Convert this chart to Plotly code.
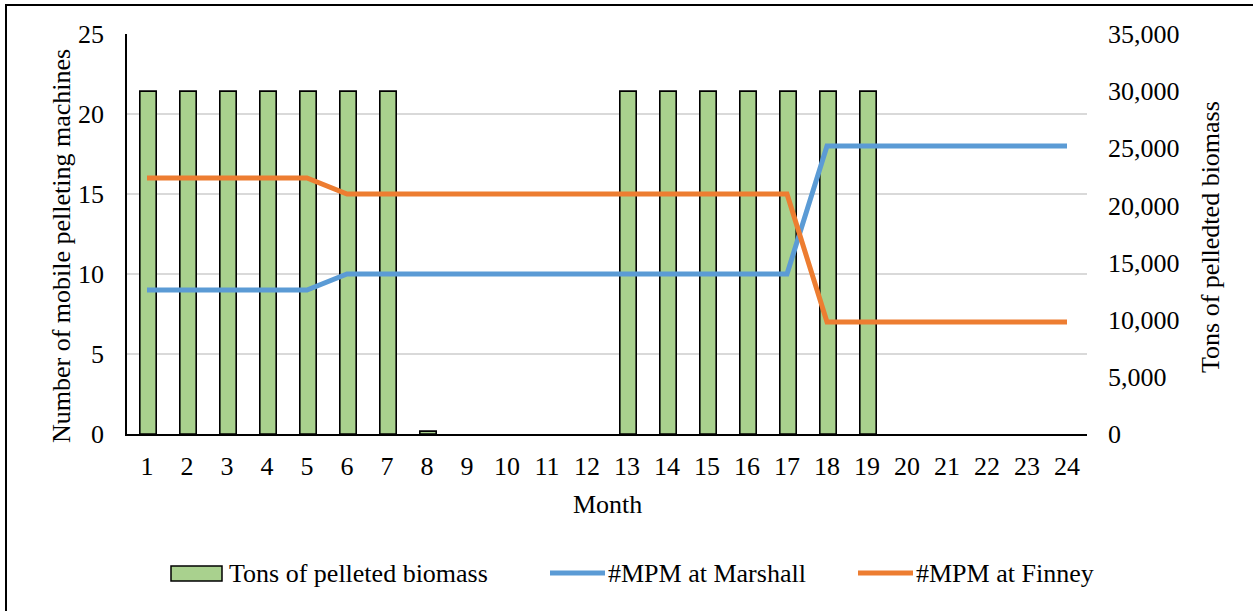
import plotly.graph_objects as go

# Monthly data
months = [str(m) for m in range(1, 25)]
tons_pelleted = [30000, 30000, 30000, 30000, 30000, 30000, 30000, 250,
                 0, 0, 0, 0, 30000, 30000, 30000, 30000, 30000, 30000,
                 30000, 0, 0, 0, 0, 0]
mpm_marshall = [9, 9, 9, 9, 9, 10, 10, 10, 10, 10, 10, 10, 10, 10, 10, 10, 10,
                18, 18, 18, 18, 18, 18, 18]
mpm_finney = [16, 16, 16, 16, 16, 15, 15, 15, 15, 15, 15, 15, 15, 15, 15, 15, 15,
              7, 7, 7, 7, 7, 7, 7]

left_ticks = [0, 5, 10, 15, 20, 25]
right_ticks = [0, 5000, 10000, 15000, 20000, 25000, 30000, 35000]

W, H = 1253, 611
L, R, T, B = 127, 166, 34, 177
PW, PH = W - L - R, H - T - B

FONT = "Liberation Serif"
FS = 26
GREEN, BLUE, ORANGE = "#A9D18E", "#5B9BD5", "#ED7D31"


def px(x):
    return (x - L) / PW


def py(y):
    return (H - B - y) / PH


fig = go.Figure()

# empty months carry no bar (avoids a flat outline on the axis)
fig.add_trace(go.Bar(
    x=months, y=[v if v else None for v in tons_pelleted],
    name="Tons of pelleted biomass",
    marker=dict(color=GREEN, line=dict(color="black", width=1.6)),
    width=0.41, offset=-0.18, yaxis="y", showlegend=False,
))
fig.add_trace(go.Scatter(
    x=months, y=mpm_marshall, name="#MPM at Marshall", mode="lines",
    line=dict(color=BLUE, width=5), yaxis="y2", showlegend=False,
))
fig.add_trace(go.Scatter(
    x=months, y=mpm_finney, name="#MPM at Finney", mode="lines",
    line=dict(color=ORANGE, width=5), yaxis="y2", showlegend=False,
))

# horizontal gridlines follow the left-axis ticks (5-machine steps)
grid_vals = [v * 35000 / 25 for v in left_ticks[1:]]

fig.update_layout(
    width=W, height=H,
    margin=dict(l=L, r=R, t=T, b=B, autoexpand=False),
    paper_bgcolor="white", plot_bgcolor="white",
    font=dict(family=FONT, size=FS, color="black"),
    xaxis=dict(
        type="category", range=[-0.5, 23.5],
        showline=True, linecolor="black", linewidth=1.5,
        showgrid=False, ticks="", ticklabelstandoff=8,
        tickfont=dict(family=FONT, size=FS),
    ),
    yaxis=dict(
        side="right", range=[0, 35000],
        tickvals=right_ticks, tickformat=",",
        showgrid=False, zeroline=False, showline=False, ticks="",
        ticklabelstandoff=20,
        minor=dict(tickvals=grid_vals, showgrid=True,
                   gridcolor="#D9D9D9", gridwidth=1.5, ticks=""),
        tickfont=dict(family=FONT, size=FS),
    ),
    yaxis2=dict(
        side="left", overlaying="y", range=[0, 25],
        tickvals=left_ticks, showgrid=False, zeroline=False,
        showline=True, linecolor="black", linewidth=1.5, ticks="",
        ticklabelstandoff=16,
        tickfont=dict(family=FONT, size=FS),
    ),
)


def label(text, x, y, xanchor="center", angle=0):
    fig.add_annotation(text=text, textangle=angle, x=px(x), y=py(y),
                       xref="paper", yref="paper", xanchor=xanchor,
                       yanchor="middle", showarrow=False,
                       font=dict(family=FONT, size=26))


# axis titles
label("Number of mobile pelleting machines", 61, 246, angle=-90)
label("Tons of pelledted biomass", 1210, 237, angle=-90)
label("Month", 607, 504)

# legend row
LEG_Y = 573
fig.add_shape(type="rect", xref="paper", yref="paper",
              x0=px(171), x1=px(222), y0=py(581), y1=py(566),
              fillcolor=GREEN, line=dict(color="black", width=1.5))
label("Tons of pelleted biomass", 227, LEG_Y, xanchor="left")
for x0, x1, tx, col, text in [(550, 605, 606, BLUE, "#MPM at Marshall"),
                              (858, 913, 914, ORANGE, "#MPM at Finney")]:
    fig.add_shape(type="line", xref="paper", yref="paper",
                  x0=px(x0), x1=px(x1), y0=py(LEG_Y), y1=py(LEG_Y),
                  line=dict(color=col, width=5))
    label(text, tx, LEG_Y, xanchor="left")

# chart frame
fig.add_shape(type="rect", xref="paper", yref="paper",
              x0=px(6), x1=px(W + 20), y0=py(H + 20), y1=py(5),
              line=dict(color="black", width=2), fillcolor="rgba(0,0,0,0)",
              layer="below")

fig.write_html("out.html")
